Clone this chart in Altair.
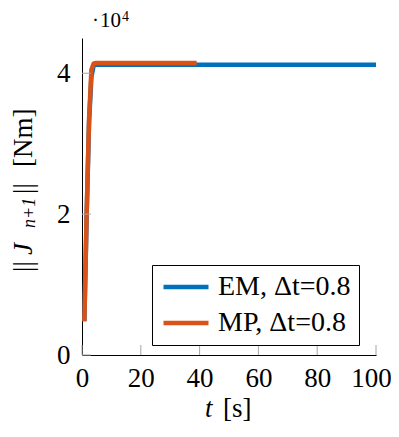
import altair as alt
import pandas as pd

# ---- data ----
series_names = ["EM, Δt=0.8", "MP, Δt=0.8"]
colors = ["#0072BD", "#D95319"]

t_em = [0.8, 1.6, 2.4, 3.2, 4.0, 4.8, 100.0]
J_em = [4800, 20000, 33000, 39500, 41150, 41200, 41200]

t_mp = [0.8, 1.6, 2.4, 3.2, 4.0, 4.8, 39.0]
J_mp = [4800, 20500, 33500, 40500, 41400, 41450, 41450]

x_ticks = [0, 20, 40, 60, 80, 100]
y_ticks = [0, 20000, 40000]

W, H = 294, 317
FONT = "Liberation Serif"

df = pd.DataFrame({
    "t": t_em + t_mp,
    "J": J_em + J_mp,
    "series": [series_names[0]] * len(t_em) + [series_names[1]] * len(t_mp),
    "order": list(range(len(t_em))) + list(range(len(t_mp))),
})

xscale = alt.Scale(domain=[0, 100], nice=False, zero=False)
yscale = alt.Scale(domain=[0, 45000], nice=False)

lines = alt.Chart(df).mark_line(strokeWidth=4.5, strokeJoin="round", clip=True).encode(
    x=alt.X("t:Q", scale=xscale,
            axis=alt.Axis(values=x_ticks, title=None, ticks=False, grid=False,
                          labelFlush=False, labelOverlap=False,
                          labelOffset={"condition": {"test": "datum.value == 100", "value": -5},
                                       "value": 0},
                          labelFont=FONT, labelFontSize=27, labelColor="black",
                          labelBaseline="alphabetic", labelPadding=31,
                          domainColor="black", domainWidth=1)),
    y=alt.Y("J:Q", scale=yscale,
            axis=alt.Axis(values=y_ticks, title=None, ticks=False, grid=False,
                          labelFlush=False, labelOverlap=False,
                          labelExpr="datum.value / 10000",
                          labelFont=FONT, labelFontSize=27, labelColor="black",
                          labelPadding=12, domainColor="black", domainWidth=1)),
    color=alt.Color("series:N",
                    scale=alt.Scale(domain=series_names, range=colors),
                    legend=alt.Legend(title=None, orient="none", legendX=70, legendY=227,
                                      strokeColor="black", fillColor="white", padding=8,
                                      labelFont=FONT, labelFontSize=28, labelColor="black",
                                      labelBaseline="middle",
                                      symbolType="M-2,0H2", symbolSize=506,
                                      symbolStrokeWidth=4.5, symbolOffset=12,
                                      rowPadding=8, labelOffset=18,
                                      cornerRadius=0)),
    order="order:Q",
)

xt = pd.DataFrame({"t": x_ticks})
yt = pd.DataFrame({"J": y_ticks})

xtick_rules = alt.Chart(xt).mark_rule(color="#a6a6a6", strokeWidth=1).encode(
    x=alt.X("t:Q", scale=xscale), y=alt.value(H), y2=alt.value(H - 10))
ytick_rules = alt.Chart(yt).mark_rule(color="#a6a6a6", strokeWidth=1).encode(
    y=alt.Y("J:Q", scale=yscale), x=alt.value(0), x2=alt.value(9))

def txt(s, x, y, size, angle=0, style="normal", align="left", baseline="alphabetic"):
    d = pd.DataFrame({"s": [s]})
    kw = dict(font=FONT, fontSize=size, align=align, baseline=baseline,
              fontStyle=style, color="black")
    if angle:
        kw["angle"] = angle
    return alt.Chart(d).mark_text(**kw).encode(
        x=alt.value(x), y=alt.value(y), text="s:N")

# scale factor label "·10^4"
t1 = txt("·", 10, -11, 21)
t2 = txt("10", 18, -11, 21)
t3 = txt("4", 40, -17, 14)

# x axis title "t [s]"
xt1 = txt("t", 123, 379, 27, style="italic")
xt2 = txt("[s]", 141, 379, 27)

# y axis title "||J_{n+1}|| [Nm]" (rotated)
yb = -50
yt1 = txt("||", yb, 272 - 38, 27, angle=270)
yt2 = txt("J", yb, 255 - 38, 27, angle=270, style="italic")
yt3 = txt("n+1", yb + 3, 228 - 38, 18, angle=270, style="italic")
yt4 = txt("||", yb, 194 - 38, 27, angle=270)
yt5 = txt("[Nm]", yb, 167 - 38, 27, angle=270)

chart = alt.layer(
    lines, xtick_rules, ytick_rules,
    t1, t2, t3, xt1, xt2, yt1, yt2, yt3, yt4, yt5,
).properties(
    width=W, height=H,
    autosize=alt.AutoSizeParams(type="none"),
    padding={"left": 74, "top": 30, "right": 15, "bottom": 70},
).configure_view(stroke=None)

chart.save("out.html", embed_options={"renderer": "svg", "actions": False})
